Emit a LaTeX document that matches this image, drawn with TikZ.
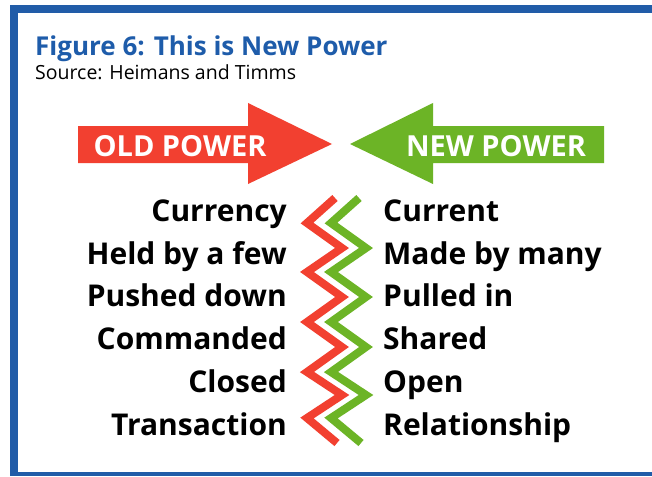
\documentclass[tikz,border=0pt]{standalone}
\usepackage{fontspec}
\setmainfont{Open Sans}
\definecolor{frameblue}{RGB}{33,92,168}
\definecolor{titleblue}{RGB}{30,92,170}
\definecolor{oldred}{RGB}{242,64,48}
\definecolor{newgreen}{RGB}{108,180,38}
\tikzset{
  lefttext/.style={anchor=base east, inner sep=0pt, font=\bfseries\fontsize{30}{32}\selectfont},
  righttext/.style={anchor=base west, inner sep=0pt, font=\bfseries\fontsize{30}{32}\selectfont},
  arrowtext/.style={anchor=base, inner sep=0pt, text=white, font=\bfseries\fontsize{29}{32}\selectfont},
  zig/.style={line width=8pt, miter limit=10, line join=miter}
}
\begin{document}
\begin{tikzpicture}[x=1pt,y=-1pt]
\useasboundingbox (0,0) rectangle (652,476);
\fill[white] (0,0) rectangle (652,476);
% frame
\fill[frameblue] (10,5) rectangle (652,13);
\fill[frameblue] (10,5) rectangle (18,476);
\fill[frameblue] (10,472) rectangle (652,476);
% title
\node[anchor=base west, inner sep=0pt, text=titleblue, font=\bfseries\fontsize{26}{28}\selectfont] (title) at (35,56) {Figure 6: This is New Power};
\node[anchor=base west, inner sep=0pt, font=\fontsize{19.5}{22}\selectfont] (source) at (35,80) {Source: Heimans and Timms};
% arrows
\fill[oldred] (78,126) -- (248,126) -- (248,103) -- (332,144) -- (248,184) -- (248,163) -- (78,163) -- cycle;
\fill[newgreen] (604,126) -- (433,126) -- (433,103) -- (350,144) -- (433,184) -- (433,163) -- (604,163) -- cycle;
\node[arrowtext] (old) at (180,156) {OLD POWER};
\node[arrowtext] (new) at (496,156) {NEW POWER};
% zigzags
\draw[zig, oldred] (335,198) -- (307,223) -- (342,248) -- (307,272) -- (342,297) -- (307,322) -- (342,347) -- (307,372) -- (342,395) -- (307,418) -- (337,443);
\draw[zig, newgreen] (359,198) -- (331,223) -- (366,248) -- (331,272) -- (366,297) -- (331,322) -- (366,347) -- (331,372) -- (366,395) -- (331,418) -- (361,443);
% lists
\node[lefttext] (l1) at (287,221) {Currency};
\node[lefttext] (l2) at (287,264) {Held by a few};
\node[lefttext] (l3) at (287,306) {Pushed down};
\node[lefttext] (l4) at (287,349) {Commanded};
\node[lefttext] (l5) at (287,392) {Closed};
\node[lefttext] (l6) at (287,435) {Transaction};
\node[righttext] (r1) at (383,221) {Current};
\node[righttext] (r2) at (383,264) {Made by many};
\node[righttext] (r3) at (383,306) {Pulled in};
\node[righttext] (r4) at (383,349) {Shared};
\node[righttext] (r5) at (383,392) {Open};
\node[righttext] (r6) at (383,435) {Relationship};
\end{tikzpicture}
\end{document}
